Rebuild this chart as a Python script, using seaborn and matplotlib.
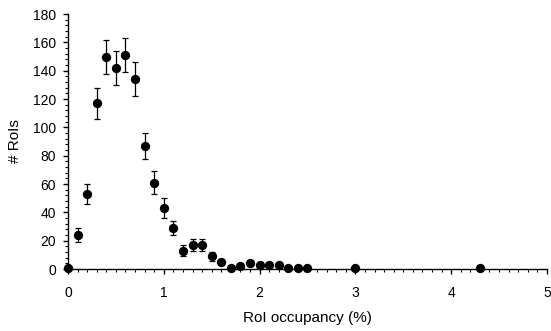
import matplotlib
matplotlib.use("Agg")
import matplotlib.pyplot as plt
from matplotlib.ticker import MultipleLocator
import seaborn as sns
import pandas as pd

# RoI occupancy (%) bins and counts with their error bars
occupancy = [0.0, 0.1, 0.2, 0.3, 0.4, 0.5, 0.6, 0.7, 0.8, 0.9,
             1.0, 1.1, 1.2, 1.3, 1.4, 1.5, 1.6, 1.7, 1.8, 1.9,
             2.0, 2.1, 2.2, 2.3, 2.4, 2.5, 3.0, 4.3]
counts = [1, 24, 53, 117, 150, 142, 151, 134, 87, 61,
          43, 29, 13, 17, 17, 9, 5, 1, 2, 4,
          3, 3, 3, 1, 1, 1, 1, 1]
errors = [1, 5, 7, 11, 12, 12, 12, 12, 9, 8,
          7, 5, 4, 4, 4, 3, 2, 1, 1, 2,
          2, 2, 2, 1, 1, 1, 1, 1]

df = pd.DataFrame({"occ": occupancy, "n": counts, "err": errors})

sns.set_style("ticks")
plt.rcParams["font.family"] = ["Liberation Sans", "DejaVu Sans"]

fig = plt.figure(figsize=(5.51, 3.31), dpi=100)
ax = fig.add_axes([0.1234, 0.1873, 0.8693, 0.7704])

ax.errorbar(df["occ"], df["n"], yerr=df["err"], fmt="none", ecolor="black",
            elinewidth=0.9, capsize=2.5, capthick=0.9, zorder=2, clip_on=False)
sns.scatterplot(data=df, x="occ", y="n", ax=ax, color="black", s=45,
                edgecolor="black", linewidth=0, zorder=3, clip_on=False)

ax.set_xlim(0, 5)
ax.set_ylim(0, 180)
ax.xaxis.set_major_locator(MultipleLocator(1))
ax.xaxis.set_minor_locator(MultipleLocator(0.1))
ax.yaxis.set_major_locator(MultipleLocator(20))
ax.yaxis.set_minor_locator(MultipleLocator(4))
ax.tick_params(which="major", direction="out", length=3.8, width=1, color="black",
               labelsize=10, labelcolor="black")
ax.tick_params(which="minor", direction="out", length=2.3, width=0.8, color="black")
ax.tick_params(axis="x", which="major", pad=8.5)
ax.tick_params(axis="y", which="major", pad=5)

for side in ("top", "right"):
    ax.spines[side].set_visible(False)
for side in ("left", "bottom"):
    ax.spines[side].set_color("black")
    ax.spines[side].set_linewidth(1)

ax.set_xlabel("RoI occupancy (%)", fontsize=11, color="black", labelpad=8)
ax.set_ylabel("# RoIs", fontsize=11, color="black", labelpad=7.5)

fig.savefig("out.png", dpi=100)
